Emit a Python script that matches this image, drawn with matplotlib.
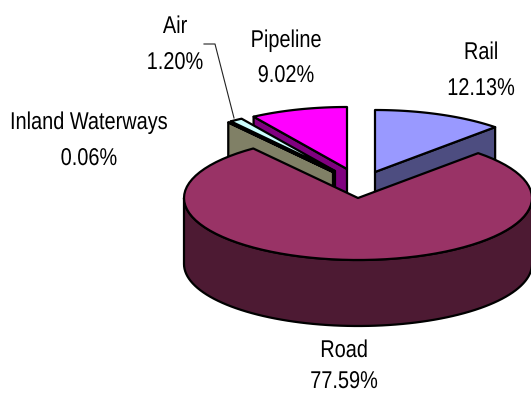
import numpy as np
import matplotlib
matplotlib.use('Agg')
import matplotlib.pyplot as plt
from matplotlib.patheffects import AbstractPathEffect
from matplotlib.transforms import Affine2D

plt.rcParams['font.family'] = ['Liberation Sans', 'DejaVu Sans']

categories = ['Rail', 'Road', 'Inland Waterways', 'Air', 'Pipeline']
shares = [12.13, 77.59, 0.06, 1.20, 9.02]
top_colors = ['#9999FF', '#993366', '#FFFFCC', '#CCFFFF', '#FF00FF']
side_colors = ['#4D4D80', '#4D1A33', '#808066', '#668080', '#800080']

# apex of each slice after it is pulled out of the pie
apex = {'Rail': (375, 172), 'Road': (358, 198), 'Inland Waterways': (333, 172),
        'Air': (335, 171), 'Pipeline': (347, 169)}
rx, ry, depth = 174, 62, 66
ec = '#000000'
lw = 1.6


class Narrow(AbstractPathEffect):
    # squeezes text sideways around x0 (display px), no narrow font is installed
    def __init__(self, x0, factor):
        super().__init__()
        self.x0 = x0
        self.factor = factor

    def draw_path(self, renderer, gc, tpath, affine, rgbFace=None):
        squeeze = Affine2D().translate(-self.x0, 0).scale(self.factor, 1).translate(self.x0, 0)
        renderer.draw_path(gc, tpath, affine + squeeze, rgbFace)


fig = plt.figure(figsize=(5.31, 3.93), dpi=100)
ax = fig.add_axes([0, 0, 1, 1])
ax.set_xlim(0, 531)
ax.set_ylim(393, 0)
ax.axis('off')

# slice angles, clockwise from 12 o'clock
edges = np.cumsum([0] + shares) / sum(shares) * 360
ranges = {c: (edges[i], edges[i + 1]) for i, c in enumerate(categories)}
tops = dict(zip(categories, top_colors))
sides = dict(zip(categories, side_colors))


def rim(name, a0, a1, n=80):
    t = np.radians(np.linspace(a0, a1, n))
    cx, cy = apex[name]
    return cx + rx * np.sin(t), cy - ry * np.cos(t)


def cut_face(name, angle):
    cx, cy = apex[name]
    x, y = rim(name, angle, angle, 1)
    ax.fill([cx, x[0], x[0], cx], [cy, y[0], y[0] + depth, cy + depth],
            fc=sides[name], ec=ec, lw=lw, joinstyle='round')


def top_face(name):
    a0, a1 = ranges[name]
    cx, cy = apex[name]
    x, y = rim(name, a0, a1)
    ax.fill(np.r_[cx, x], np.r_[cy, y], fc=tops[name], ec=ec, lw=lw, joinstyle='round')


def label(x, y, s, ha='center'):
    t = ax.text(x, y, s, ha=ha, va='baseline', fontsize=17.5, color='black')
    t.set_path_effects([Narrow(x * fig.dpi / 100, 0.82)])


# back slices first, the road slice goes on top of them
cut_face('Rail', ranges['Rail'][1])
top_face('Rail')
cut_face('Pipeline', ranges['Pipeline'][0])
top_face('Pipeline')
cut_face('Air', ranges['Air'][0])
top_face('Air')
cut_face('Inland Waterways', ranges['Inland Waterways'][0])
top_face('Inland Waterways')

# outer wall of the road slice
x, y = rim('Road', 90, 270)
ax.fill(np.r_[x, x[::-1]], np.r_[y, y[::-1] + depth], fc=sides['Road'], ec=ec, lw=lw,
        joinstyle='round')
top_face('Road')

# labels: x centre, baseline of the name line, baseline of the percent line
label_pos = {'Rail': (481, 59, 95), 'Road': (344, 357, 388),
             'Inland Waterways': (89, 129, 165), 'Air': (175, 33, 69),
             'Pipeline': (286, 47, 82)}
for c, s in zip(categories, shares):
    lx, y1, y2 = label_pos[c]
    if c == 'Inland Waterways':
        # anchored on its left end, the unsqueezed box would run off the figure
        label(10, y1, c, ha='left')
    else:
        label(lx, y1, c)
    label(lx, y2, f'{s:.2f}%')

# leader line for the Air label
ax.plot([204, 215, 234], [44, 44, 118], color='#222222', lw=0.8)

fig.savefig('out.png', dpi=100)
